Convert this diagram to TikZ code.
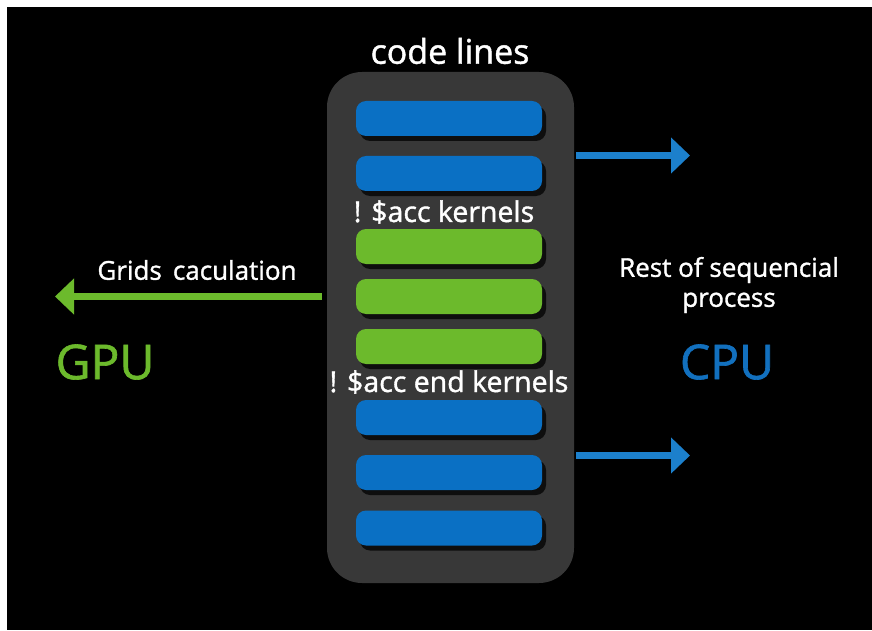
\documentclass[tikz,border=0pt]{standalone}
\usepackage{fontspec}
\setmainfont{Open Sans}
\newfontfamily\semib[FakeBold=1.3]{Open Sans}
\usetikzlibrary{arrows.meta,shadows}
\definecolor{barblue}{RGB}{10,112,196}
\definecolor{arrblue}{RGB}{28,128,204}
\definecolor{cpublue}{RGB}{18,112,190}
\definecolor{bargreen}{RGB}{108,186,44}
\definecolor{panelgray}{RGB}{56,56,56}
\begin{document}
\begin{tikzpicture}[x=1pt,y=-1pt,
  panel/.style={fill=panelgray, rounded corners=35pt, minimum width=247pt, minimum height=511pt, inner sep=0pt},
  bar/.style={rounded corners=10pt, minimum width=186pt, minimum height=35pt, inner sep=0pt,
    drop shadow={shadow xshift=4pt, shadow yshift=-5pt, fill=black, opacity=0.75}},
  bluebar/.style={bar, fill=barblue},
  greenbar/.style={bar, fill=bargreen},
  lbl/.style={text=white, inner sep=0pt},
  bigtxt/.style={inner sep=0pt, font=\semib\fontsize{48}{54}\selectfont},
  arr/.style={line width=7pt, -{Triangle[width=35pt,length=19pt]}}
]
\useasboundingbox (0,0) rectangle (872,631);
\fill[white] (0,0) rectangle (872,631);
\fill[black] (7,7) rectangle (872,630);

\node[panel] (panel) at (450.5,327.5) {};
\node[lbl, font=\semib\fontsize{34}{40}\selectfont] (title) at (450,51) {code lines};

\node[bluebar] (b1) at (449,118.5) {};
\node[bluebar] (b2) at (449,173.5) {};
\node[greenbar] (g1) at (449,246.5) {};
\node[greenbar] (g2) at (449,296.5) {};
\node[greenbar] (g3) at (449,346.5) {};
\node[bluebar] (b3) at (449,417.5) {};
\node[bluebar] (b4) at (449,472.5) {};
\node[bluebar] (b5) at (449,528) {};

\node[lbl, font=\semib\fontsize{28.5}{33}\selectfont] (k1) at (444,212) {! \$acc kernels};
\node[lbl, font=\semib\fontsize{28.5}{33}\selectfont] (k2) at (449,382) {! \$acc end kernels};

\coordinate (a1s) at (576,155.5);
\coordinate (a1e) at (690,155.5);
\coordinate (a2s) at (576,455.5);
\coordinate (a2e) at (690,455.5);
\coordinate (gs) at (322,296.5);
\coordinate (ge) at (55,296.5);
\draw[arr, arrblue] (a1s) -- (a1e);
\draw[arr, arrblue] (a2s) -- (a2e);
\draw[arr, bargreen] (gs) -- (ge);

\node[lbl, font=\semib\fontsize{26}{30}\selectfont] (grids) at (197,270) {Grids\, caculation};
\node[bigtxt, text=bargreen] (gpu) at (105,362) {GPU};
\node[lbl, font=\semib\fontsize{26}{30}\selectfont, align=center] (rest) at (729,285) {Rest of sequencial\\process};
\node[bigtxt, text=cpublue] (cpu) at (727,362) {CPU};
\end{tikzpicture}
\end{document}
